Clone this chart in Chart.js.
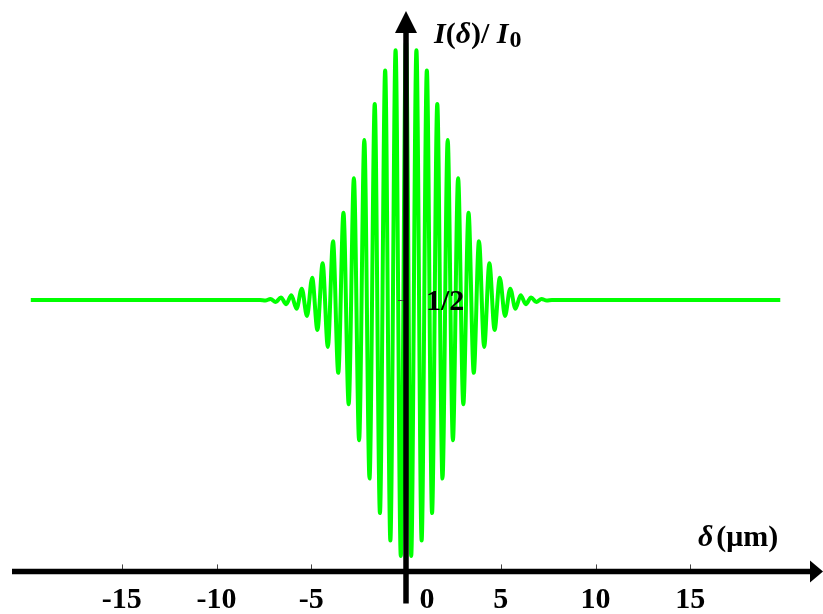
<!DOCTYPE html>
<html><head><meta charset="utf-8">
<script src="https://cdn.jsdelivr.net/npm/chart.js@4"></script>
<style>html,body{margin:0;padding:0;background:#fff;overflow:hidden}#wrap{width:823px;height:614px;position:relative}</style>
</head><body><div id="wrap"><canvas id="c" width="823" height="614"></canvas></div>
<script>
// optical path difference (µm) at each fringe extremum
const delta = [-19.8,
  -7.7, -7.425, -7.15, -6.875, -6.6, -6.325, -6.05, -5.775, -5.5, -5.225,
  -4.95, -4.675, -4.4, -4.125, -3.85, -3.575, -3.3, -3.025, -2.75, -2.475,
  -2.2, -1.925, -1.65, -1.375, -1.1, -0.825, -0.55, -0.275, 0,
  0.275, 0.55, 0.825, 1.1, 1.375, 1.65, 1.925, 2.2, 2.475, 2.75,
  3.025, 3.3, 3.575, 3.85, 4.125, 4.4, 4.675, 4.95, 5.225, 5.5,
  5.775, 6.05, 6.325, 6.6, 6.875, 7.15, 7.425, 7.7,
  19.75];
// normalised intensity I(δ)/I0 at those points
const intensity = [0.5,
  0.5, 0.499, 0.502, 0.496, 0.505, 0.492, 0.509, 0.483, 0.522, 0.469,
  0.543, 0.442, 0.571, 0.409, 0.614, 0.359, 0.669, 0.298, 0.736, 0.228,
  0.810, 0.154, 0.880, 0.087, 0.945, 0.034, 0.984, 0.004, 1.000,
  0.004, 0.984, 0.034, 0.945, 0.087, 0.880, 0.154, 0.810, 0.228, 0.736,
  0.298, 0.669, 0.359, 0.614, 0.409, 0.571, 0.442, 0.543, 0.469, 0.522,
  0.483, 0.509, 0.492, 0.505, 0.496, 0.502, 0.499, 0.5,
  0.5];
const xTickValues = [-15, -10, -5, 0, 5, 10, 15];
const xTickLabels = ['-15', '-10', '-5', '0', '5', '10', '15'];
const yTickValues = [0.5];
const yTickLabels = ['1/2'];

const X_MIN = -21.425, X_MAX = 22.005, Y_MIN = -0.1085, Y_MAX = 1.0814;
const AXIS_Y = -0.026;   // data value where the horizontal axis sits
const AXIS_X = 0;        // data value where the vertical axis sits
const FONT = '"Liberation Serif", "Times New Roman", serif';

function drawPieces(ctx, x, y, pieces) {
  pieces.forEach(p => {
    ctx.font = p.font;
    ctx.fillText(p.t, x, y + (p.dy || 0));
    x += ctx.measureText(p.t).width + (p.gap || 0);
  });
}

const axesPlugin = {
  id: 'axes',
  afterDatasetsDraw(chart) {
    const ctx = chart.ctx, xs = chart.scales.x, ys = chart.scales.y;
    const ax = xs.getPixelForValue(AXIS_X), ay = ys.getPixelForValue(AXIS_Y);
    const W = chart.width;
    ctx.save();
    // small tick marks
    ctx.lineWidth = 1; ctx.strokeStyle = '#444';
    xTickValues.forEach(v => {
      if (v === AXIS_X) return;
      const px = Math.round(xs.getPixelForValue(v)) + 0.5;
      ctx.beginPath(); ctx.moveTo(px, ay - 2); ctx.lineTo(px, ay - 7); ctx.stroke();
    });
    yTickValues.forEach(v => {
      const py = Math.round(ys.getPixelForValue(v)) + 0.5;
      ctx.beginPath(); ctx.moveTo(ax - 8, py); ctx.lineTo(ax - 2, py); ctx.stroke();
    });
    // axes
    ctx.strokeStyle = '#000'; ctx.fillStyle = '#000'; ctx.lineWidth = 5.5; ctx.lineCap = 'butt';
    ctx.beginPath(); ctx.moveTo(12, ay); ctx.lineTo(W - 11, ay); ctx.stroke();
    ctx.beginPath(); ctx.moveTo(W, ay); ctx.lineTo(W - 13, ay - 11); ctx.lineTo(W - 13, ay + 11); ctx.closePath(); ctx.fill();
    ctx.beginPath(); ctx.moveTo(ax, ay + 32); ctx.lineTo(ax, 30); ctx.stroke();
    ctx.beginPath(); ctx.moveTo(ax, 11); ctx.lineTo(ax - 11, 33); ctx.lineTo(ax + 11, 33); ctx.closePath(); ctx.fill();
    // tick labels
    ctx.fillStyle = '#000';
    ctx.font = 'bold 30px ' + FONT;
    ctx.textBaseline = 'alphabetic';
    ctx.textAlign = 'center';
    xTickValues.forEach((v, i) => {
      const px = xs.getPixelForValue(v) + (v === AXIS_X ? 21 : 0);
      ctx.fillText(xTickLabels[i], px, ay + 37);
    });
    ctx.textAlign = 'left';
    yTickValues.forEach((v, i) => {
      ctx.fillText(yTickLabels[i], ax + 20, ys.getPixelForValue(v) + 9.5);
    });
    // axis titles
    const bi = 'italic bold 30px ' + FONT, b = 'bold 30px ' + FONT;
    drawPieces(ctx, ax + 28, 43, [
      {t: 'I', font: bi}, {t: '(', font: b}, {t: 'δ', font: bi},
      {t: ')/ ', font: b}, {t: 'I', font: bi, gap: 1}, {t: '0', font: 'bold 24px ' + FONT, dy: 4}
    ]);
    drawPieces(ctx, 698, ay - 25, [
      {t: 'δ', font: bi, gap: 3}, {t: '(μm)', font: b}
    ]);
    ctx.restore();
  }
};

new Chart(document.getElementById('c').getContext('2d'), {
  type: 'line',
  data: {
    datasets: [{
      data: delta.map((d, i) => ({x: d, y: intensity[i]})),
      borderColor: '#00ff00',
      borderWidth: 4,
      pointRadius: 0,
      cubicInterpolationMode: 'monotone',
      fill: false
    }]
  },
  options: {
    responsive: false,
    animation: false,
    devicePixelRatio: 1,
    layout: {padding: 0},
    plugins: {legend: {display: false}, tooltip: {enabled: false}, title: {display: false}},
    scales: {
      x: {type: 'linear', min: X_MIN, max: X_MAX, display: false},
      y: {type: 'linear', min: Y_MIN, max: Y_MAX, display: false}
    }
  },
  plugins: [axesPlugin]
});
</script></body></html>
